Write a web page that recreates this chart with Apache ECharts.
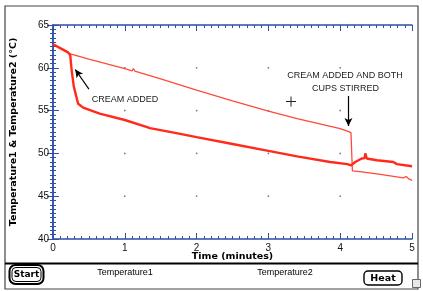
<!DOCTYPE html>
<html>
<head>
<meta charset="utf-8">
<script src="https://cdn.jsdelivr.net/npm/echarts@6/dist/echarts.min.js"></script>
<style>
  html, body { margin: 0; padding: 0; background: #fff; }
  #main { width: 423px; height: 291px; }
</style>
</head>
<body>
<div id="main"></div>
<script>
// time in minutes, temperatures in degrees C
var temp1Times = [0, 0.1, 0.21, 0.24, 0.26, 0.29, 0.35, 0.42, 0.65, 1.0, 1.3, 1.32, 1.35, 1.7, 2.0, 2.5, 3.0, 3.4, 3.86, 4.1, 4.15, 4.21, 4.3, 4.34, 4.35, 4.37, 4.51, 4.74, 4.79, 5.0];
var temp1Values = [62.75, 62.3, 61.8, 61.45, 59.7, 57.8, 55.8, 55.35, 54.65, 53.9, 53.1, 53.3, 52.95, 52.4, 51.9, 51.1, 50.3, 49.65, 49.0, 48.75, 48.6, 49.0, 49.4, 49.45, 50.0, 49.4, 49.2, 49.0, 48.75, 48.5];

var temp2Times = [0, 0.1, 0.23, 0.5, 1.0, 1.1, 1.12, 1.14, 1.5, 2.0, 2.5, 3.0, 3.4, 4.0, 4.12, 4.15, 4.17, 4.3, 4.56, 4.88, 4.92, 4.95, 5.0];
var temp2Values = [62.75, 62.3, 61.65, 61.0, 59.9, 59.65, 59.9, 59.6, 58.7, 57.4, 56.15, 54.95, 54.05, 52.9, 52.55, 52.4, 47.95, 47.85, 47.55, 47.15, 47.3, 47.05, 46.85];

// grid dots sit at the major tick crossings
var dotTimes = [1, 2, 3, 4];
var dotTemps = [45, 50, 55, 60];

var axisBlue = '#2f4fa8';
var red = '#ff2a1a';

function pairs(xs, ys) {
    var out = [];
    for (var i = 0; i < xs.length; i++) out.push([xs[i], ys[i]]);
    return out;
}
var dots = [];
dotTimes.forEach(function (t) {
    dotTemps.forEach(function (v) { dots.push([t, v]); });
});

var tickStyle = { show: true, inside: true, length: 6, lineStyle: { color: axisBlue, width: 1 } };
var minorStyle = { show: true, splitNumber: 10, length: 3, lineStyle: { color: axisBlue, width: 1 } };
var lineStyle = { show: true, lineStyle: { color: axisBlue, width: 1.5 } };

var xBase = {
    type: 'value', min: 0, max: 5, interval: 1,
    axisLine: lineStyle, axisTick: tickStyle, minorTick: minorStyle,
    splitLine: { show: false }
};
var yBase = {
    type: 'value', min: 40, max: 65, interval: 5,
    axisLine: lineStyle, axisTick: tickStyle, minorTick: minorStyle,
    splitLine: { show: false }
};

var myChart = echarts.init(document.getElementById('main'));

var option = {
    animation: false,
    backgroundColor: '#fff',
    grid: { left: 53, right: 11, top: 25, bottom: 52 },
    xAxis: [
        Object.assign({}, xBase, {
            position: 'bottom',
            name: 'Time (minutes)',
            nameLocation: 'middle',
            nameGap: 13,
            nameMoveOverlap: false,
            nameTextStyle: { fontFamily: 'DejaVu Sans', fontWeight: 'bold', fontSize: 9.5, color: '#000' },
            axisLabel: { margin: 4, fontFamily: 'Liberation Sans', fontSize: 10, color: '#111' }
        }),
        Object.assign({}, xBase, { position: 'top', axisLabel: { show: false } })
    ],
    yAxis: [
        Object.assign({}, yBase, {
            position: 'left',
            name: 'Temperature1 & Temperature2 (\u00B0C)',
            nameLocation: 'middle',
            nameGap: 34,
            nameTextStyle: { fontFamily: 'DejaVu Sans', fontWeight: 'bold', fontSize: 9.5, color: '#000' },
            axisLabel: { margin: 4, fontFamily: 'Liberation Sans', fontSize: 10, color: '#111' }
        }),
        Object.assign({}, yBase, { position: 'right', axisLabel: { show: false } })
    ],
    series: [
        {
            name: 'dots',
            type: 'scatter',
            data: dots,
            symbol: 'rect',
            symbolSize: 1.5,
            itemStyle: { color: axisBlue },
            silent: true
        },
        {
            name: 'Temperature2',
            type: 'line',
            data: pairs(temp2Times, temp2Values),
            showSymbol: false,
            lineStyle: { color: '#ff4a3a', width: 1.3 },
            silent: true
        },
        {
            name: 'Temperature1',
            type: 'line',
            data: pairs(temp1Times, temp1Values),
            showSymbol: false,
            lineStyle: { color: red, width: 2.4 },
            silent: true,
            markLine: {
                silent: true,
                symbol: ['none', 'arrow'],
                symbolSize: [6, 8],
                label: { show: false },
                lineStyle: { color: '#000', width: 1.2, type: 'solid' },
                data: [
                    [{ coord: [0.5, 57.5] }, { coord: [0.31, 59.8] }],
                    [{ coord: [4.115, 56.7] }, { coord: [4.115, 53.2] }]
                ]
            }
        }
    ],
    graphic: [
        // outer frame and the button bar below the plot
        { type: 'rect', shape: { x: 5, y: 6, width: 413, height: 283 }, style: { fill: 'none', stroke: '#444', lineWidth: 1.2 }, silent: true },
        { type: 'line', shape: { x1: 5, y1: 263.5, x2: 418, y2: 263.5 }, style: { stroke: '#000', lineWidth: 2 }, silent: true },
        { type: 'rect', shape: { x: 9.5, y: 265, width: 34, height: 19, r: 6 }, style: { fill: '#fff', stroke: '#000', lineWidth: 2 } },
        { type: 'rect', shape: { x: 12, y: 267.5, width: 29, height: 14, r: 4 }, style: { fill: 'none', stroke: '#000', lineWidth: 1 } },
        { type: 'text', x: 26.5, y: 275, style: { text: 'Start', font: 'bold 9px "DejaVu Sans"', fill: '#000', align: 'center', verticalAlign: 'middle' } },
        { type: 'rect', shape: { x: 364, y: 271, width: 38, height: 14, r: 4 }, style: { fill: '#fff', stroke: '#000', lineWidth: 1.4 } },
        { type: 'text', x: 383, y: 278.5, style: { text: 'Heat', font: 'bold 9.5px "DejaVu Sans"', fill: '#000', align: 'center', verticalAlign: 'middle' } },
        { type: 'text', x: 125, y: 273, style: { text: 'Temperature1', font: '9px "Liberation Sans"', fill: '#000', align: 'center', verticalAlign: 'middle' } },
        { type: 'text', x: 285, y: 273, style: { text: 'Temperature2', font: '9px "Liberation Sans"', fill: '#000', align: 'center', verticalAlign: 'middle' } },
        { type: 'rect', shape: { x: 412.5, y: 279.5, width: 8, height: 8 }, style: { fill: '#e8e8e8', stroke: '#667', lineWidth: 1 } },
        // annotations
        { type: 'text', x: 125, y: 100, style: { text: 'CREAM ADDED', font: '9px "Liberation Sans"', fill: '#222', align: 'center', verticalAlign: 'middle' } },
        { type: 'text', x: 345, y: 76, style: { text: 'CREAM ADDED AND BOTH', font: '9px "Liberation Sans"', fill: '#222', align: 'center', verticalAlign: 'middle' } },
        { type: 'text', x: 345.5, y: 88.5, style: { text: 'CUPS STIRRED', font: '9px "Liberation Sans"', fill: '#222', align: 'center', verticalAlign: 'middle' } },
        { type: 'line', shape: { x1: 286, y1: 101.5, x2: 296, y2: 101.5 }, style: { stroke: '#222', lineWidth: 1 } },
        { type: 'line', shape: { x1: 291, y1: 96.5, x2: 291, y2: 106.5 }, style: { stroke: '#222', lineWidth: 1 } }
    ]
};

myChart.setOption(option);
</script>
</body>
</html>
